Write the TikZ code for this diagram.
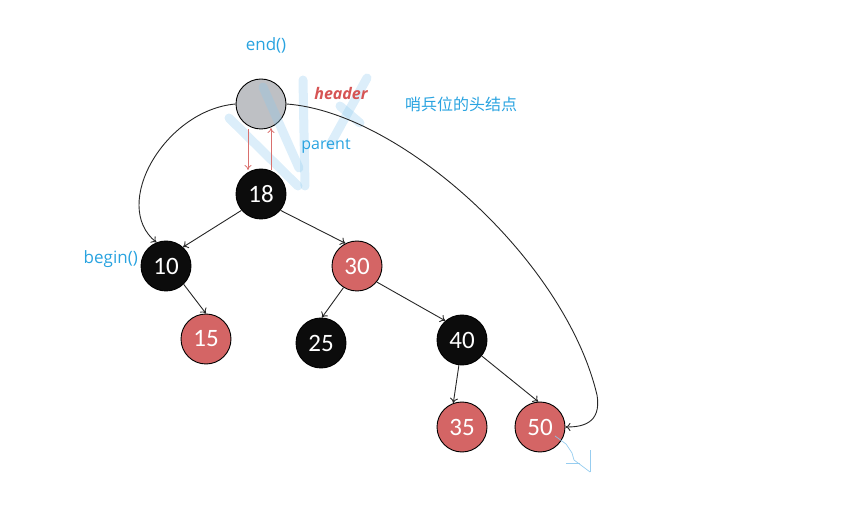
\documentclass[tikz,border=0pt]{standalone}
\usepackage{fontspec}
\setmainfont{Open Sans}
\newfontfamily\numfont{Carlito}
\newfontfamily\cjkfont{Noto Sans CJK SC}
\usetikzlibrary{arrows.meta}
\definecolor{rbred}{RGB}{212,101,101}
\definecolor{rbblack}{RGB}{12,12,12}
\definecolor{hdrgray}{RGB}{190,192,196}
\definecolor{lblblue}{RGB}{41,163,224}
\definecolor{ptrred}{RGB}{217,112,110}
\definecolor{hdrred}{RGB}{214,84,84}
\definecolor{wmblue}{RGB}{140,200,238}
\tikzset{
  tnode/.style={circle,draw=black,line width=0.9pt,minimum size=50pt,inner sep=0pt,text=white,font=\numfont\fontsize{25}{25}\selectfont},
  rnode/.style={tnode,fill=rbred},
  bnode/.style={tnode,fill=rbblack},
  hnode/.style={tnode,fill=hdrgray},
  edge/.style={draw=black!85,line width=0.9pt,-{To[length=5pt,width=8pt]}},
  pedge/.style={draw=ptrred,line width=0.8pt,-{To[length=5pt,width=7pt]}},
  lbl/.style={text=lblblue,font=\fontsize{16}{16}\selectfont,inner sep=0pt},
  wm/.style={draw=wmblue,opacity=0.3,line width=9pt,line cap=round},
  wmthin/.style={draw=wmblue,opacity=0.9,line width=0.7pt},
}
\begin{document}
\begin{tikzpicture}[x=1pt,y=-1pt]
\useasboundingbox (0,0) rectangle (844,529);
% nodes
\node[hnode] (h) at (261,104) {};
\node[bnode] (n18) at (261,194) {18};
\node[bnode] (n10) at (166,266) {10};
\node[rnode] (n30) at (357,266) {30};
\node[rnode] (n15) at (206,339) {15};
\node[bnode] (n25) at (321,343) {25};
\node[bnode] (n40) at (462,340) {40};
\node[rnode] (n35) at (462,427) {35};
\node[rnode] (n50) at (540,427) {50};
% watermark scribble
\draw[wm] (229,118) -- (298,186);
\draw[wm] (263,87) -- (299,168);
\draw[wm] (303,80) -- (305,186);
\draw[wm] (367,78) -- (330,145);
\draw[wm] (340,106) -- (360,123);
% labels
\node[lbl,font=\fontsize{17}{17}\selectfont] (lend) at (266,45) {end()};
\node[text=hdrred,font=\bfseries\itshape\fontsize{16}{16}\selectfont,inner sep=0pt] (lhdr) at (341,94) {header};
\node[lbl,font=\cjkfont\fontsize{16}{16}\selectfont] (lsent) at (461,104) {哨兵位的头结点};
\node[lbl] (lpar) at (326,146) {parent};
\node[lbl,font=\fontsize{17}{17}\selectfont,anchor=east] (lbeg) at (138,259) {begin()};
% tree edges
\draw[edge] (n18.220) -- (n10.48);
\draw[edge] (n18.320) -- (n30.117);
\draw[edge] (n10.314) -- (n15.90);
\draw[edge] (n30.238) -- (n25.88);
\draw[edge] (n30.321) -- (n40.131);
\draw[edge] (n40.263) -- (n35.110);
\draw[edge] (n40.321) -- (n50.94);
% header pointers
\draw[edge] (h.west) .. controls (165,110) and (110,205) .. (n10.112);
\draw[edge] (h.east) .. controls (400,112) and (565,260) .. (597,395) .. controls (602,425) and (580,427) .. (n50.east);
\draw[pedge] ([xshift=-13pt]h.south) -- ([xshift=-13pt]n18.north |- 0,170);
\draw[pedge] ([xshift=10pt]n18.north |- 0,170) -- ([xshift=10pt]h.south |- 0,128);
% small scribble near 50
\draw[wmthin] (555,436) -- (566,444) -- (572,453) -- (574,460) -- (590,472);
\draw[wmthin] (590,472) -- (590,450);
\draw[wmthin] (566,463) -- (580,463);
\end{tikzpicture}
\end{document}
